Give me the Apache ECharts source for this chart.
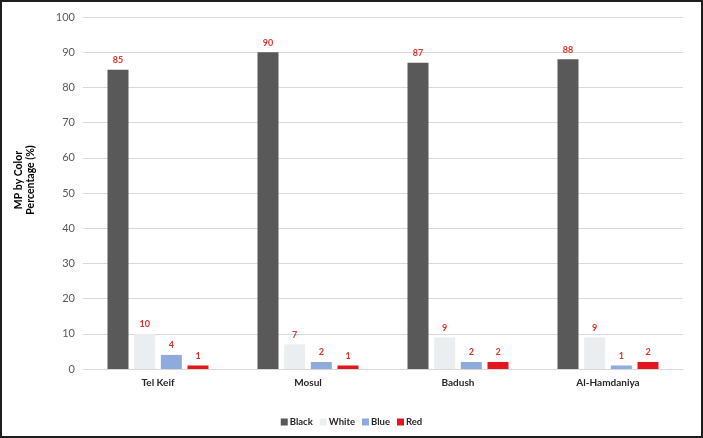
<!DOCTYPE html>
<html><head><meta charset="utf-8">
<script src="https://cdn.jsdelivr.net/npm/echarts@6/dist/echarts.min.js"></script>
<style>
html,body{margin:0;padding:0;background:#fff;}
#c{width:703px;height:438px;box-sizing:border-box;border:2px solid #1e1e1e;}
</style></head>
<body><div id="c"></div>
<script>
const categories = ["Tel Keif", "Mosul", "Badush", "Al-Hamdaniya"];
const black = [85, 90, 87, 88];
const white = [10, 7, 9, 9];
const blue = [4, 2, 2, 1];
const red = [1, 1, 2, 2];
const seriesNames = ["Black", "White", "Blue", "Red"];
const yTicks = [0, 10, 20, 30, 40, 50, 60, 70, 80, 90, 100];

const colors = ["#595959", "#eaeef0", "#8faadc", "#e3161e"];
const font = "Lato, 'Open Sans', sans-serif";
const chart = echarts.init(document.getElementById('c'));
const mk = (name, data, i) => ({
  name, type: 'bar', data,
  barWidth: 21, barGap: '27%',
  itemStyle: { color: colors[i] },
  label: { show: true, position: 'top', distance: 5, color: '#e0302a', fontSize: 9, fontWeight: 'bold', fontFamily: font }
});
chart.setOption({
  animation: false,
  grid: { left: 81, right: 18, top: 15, bottom: 67, containLabel: false, outerBoundsMode: 'none' },
  legend: {
    bottom: 4, left: 'center', itemWidth: 7, itemHeight: 7, itemGap: 7,
    icon: 'rect',
    textStyle: { color: '#262626', fontSize: 9.5, fontWeight: 'bold', fontFamily: font, padding: [0, 0, 0, -3] },
    data: seriesNames
  },
  xAxis: {
    type: 'category', data: categories,
    axisLine: { lineStyle: { color: '#d9d9d9' } },
    axisTick: { show: false },
    axisLabel: { color: '#262626', fontSize: 10, fontWeight: 'bold', fontFamily: font, margin: 9 }
  },
  yAxis: {
    type: 'value', min: yTicks[0], max: yTicks[yTicks.length - 1], interval: 10,
    name: 'MP by Color\nPercentage (%)', nameLocation: 'middle', nameGap: 46,
    nameTextStyle: { color: '#000', fontSize: 10.5, fontWeight: 'bold', fontFamily: font, lineHeight: 12, padding: [0, 0, 0, 26] },
    axisLabel: { color: '#595959', fontSize: 11, fontFamily: font, margin: 8 },
    splitLine: { lineStyle: { color: '#d9d9d9' } },
    axisLine: { show: false }, axisTick: { show: false }
  },
  series: [mk(seriesNames[0], black, 0), mk(seriesNames[1], white, 1), mk(seriesNames[2], blue, 2), mk(seriesNames[3], red, 3)]
});
</script></body></html>
